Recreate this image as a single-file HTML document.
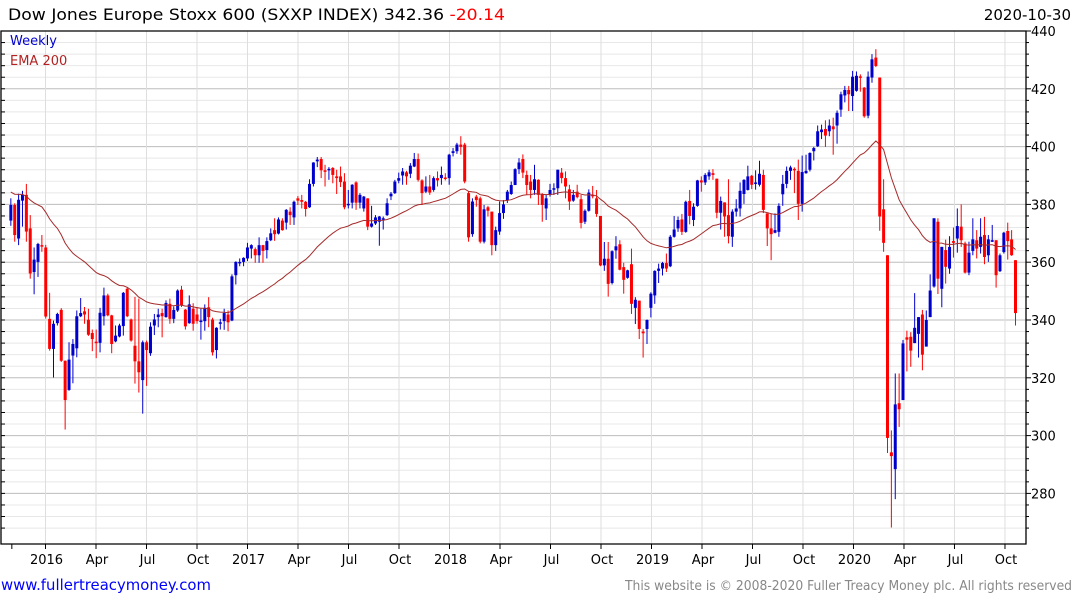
<!DOCTYPE html>
<html><head><meta charset="utf-8"><style>
html,body{margin:0;padding:0;background:#fff;}
svg{display:block;font-family:"DejaVu Sans","Liberation Sans",sans-serif;}
</style></head><body>
<svg id="chart" width="1075" height="600" viewBox="0 0 1075 600" xmlns="http://www.w3.org/2000/svg">
<text x="8" y="20" font-size="16" fill="#000" textLength="497" lengthAdjust="spacingAndGlyphs">Dow Jones Europe Stoxx 600 (SXXP INDEX) 342.36 <tspan fill="#ff0000">-20.14</tspan></text>
<text x="1071" y="20" font-size="15" text-anchor="end" fill="#000">2020-10-30</text>
<g id="grid"></g>
<g id="marks"></g>
<g id="axes"></g>
<text x="10" y="45" font-size="13" fill="#0000cc">Weekly</text>
<text x="10" y="65" font-size="13" fill="#b22222">EMA 200</text>
<text x="1" y="590" font-size="15" fill="#0000ff" textLength="210" lengthAdjust="spacingAndGlyphs">www.fullertreacymoney.com</text>
<text x="625" y="590" font-size="13" fill="#888" textLength="447" lengthAdjust="spacingAndGlyphs">This website is © 2008-2020 Fuller Treacy Money plc. All rights reserved</text>
</svg>
<script>
const openP = [
374.4,379.8,368.2,381.3,383.3,371.7,356.6,360.1,365.9,365.1,
340.4,330.0,338.9,343.5,325.9,315.8,327.7,330.2,341.3,343.0,
340.1,335.5,332.5,332.1,341.3,348.5,341.6,332.6,334.3,337.9,
350.8,340.2,331.1,325.7,319.2,332.3,328.5,338.1,341.0,342.4,
341.0,345.6,340.4,343.3,350.5,343.6,338.9,343.9,341.9,339.6,
339.6,344.4,340.2,329.6,338.7,339.6,341.9,339.8,355.5,359.8,
360.1,361.3,364.7,364.5,362.4,365.9,364.2,367.6,371.1,369.9,
374.4,373.7,377.5,375.5,382.1,381.5,380.9,379.0,387.1,394.9,
395.7,391.8,391.8,392.6,389.7,389.7,387.9,379.8,380.6,387.6,
380.6,378.6,382.1,372.3,373.4,374.0,374.8,376.3,382.8,383.9,
388.2,390.0,391.1,390.6,393.1,395.7,388.3,384.4,386.2,385.0,
389.1,389.1,389.3,389.1,397.8,398.4,400.7,400.7,383.9,369.7,
382.7,382.1,367.1,379.0,377.5,365.9,370.6,377.0,381.5,383.6,
386.7,392.2,395.7,390.2,387.9,385.0,388.5,383.6,378.6,383.3,
385.2,385.6,391.0,389.1,385.2,381.3,384.4,381.8,374.0,377.8,
383.3,382.1,376.0,358.9,361.2,352.8,364.1,366.2,358.3,354.6,
359.3,344.2,346.7,336.0,336.9,344.2,348.5,357.0,357.8,359.7,
358.6,368.8,371.7,374.8,370.5,381.2,374.6,379.5,388.3,387.6,
389.7,390.8,388.9,377.1,380.7,376.3,368.8,377.5,378.6,383.6,
385.0,389.9,387.3,386.8,390.2,376.9,371.7,370.2,370.5,383.5,
387.1,391.6,392.3,391.6,380.2,390.8,392.0,398.4,400.1,405.0,
406.1,405.3,407.0,407.3,412.8,417.7,419.6,417.5,419.3,424.3,
420.4,410.7,423.9,430.8,423.9,378.3,362.4,294.2,288.4,311.2,
312.3,334.0,334.2,332.0,335.2,341.9,330.8,341.0,351.6,374.0,
350.8,364.2,357.8,367.3,368.2,372.3,366.5,356.4,363.9,367.6,
365.3,369.4,362.4,367.3,367.6,356.9,363.5,370.8,367.9,360.7];
const closeP = [
379.8,369.4,381.6,383.3,370.6,356.1,360.9,366.3,365.6,341.2,
330.0,338.7,342.1,325.9,312.3,326.3,331.7,341.3,342.4,341.9,
334.9,333.4,332.1,342.5,348.5,341.6,331.7,334.6,338.1,349.4,
341.3,332.9,325.7,321.9,332.3,329.6,337.7,340.2,341.9,341.3,
345.9,340.4,343.5,350.2,345.0,337.8,345.4,338.7,339.6,339.8,
344.2,341.0,328.8,337.3,339.2,342.4,339.2,355.1,360.1,360.1,
361.5,365.1,365.9,362.4,365.9,363.9,367.3,370.0,369.7,374.8,
371.1,378.1,376.3,380.9,381.3,380.9,378.4,387.1,394.5,395.5,
391.8,391.4,392.3,390.2,389.1,387.7,379.0,380.2,386.8,380.6,
383.3,382.7,372.3,373.4,375.5,375.8,375.2,380.4,383.7,387.9,
389.1,391.4,389.7,393.4,395.7,388.5,383.9,386.2,384.1,389.1,
388.3,390.2,389.1,397.2,398.4,400.7,399.9,387.9,368.6,381.0,
381.5,367.1,378.3,377.8,365.9,371.1,377.0,380.0,384.4,386.7,
392.2,394.5,391.0,386.7,385.0,388.7,383.3,379.8,382.1,385.0,
385.6,392.0,389.1,386.2,381.0,383.3,382.5,373.6,377.8,384.1,
382.9,376.7,358.9,361.2,352.5,363.8,365.5,357.4,353.9,357.2,
345.6,347.0,336.9,335.4,340.0,349.1,357.0,357.8,359.7,357.8,
368.8,371.3,374.6,370.5,380.9,376.0,379.2,388.3,387.6,390.2,
391.1,390.2,377.1,381.2,375.8,369.0,377.5,378.6,384.7,388.5,
389.7,386.8,387.6,390.6,378.1,371.7,369.7,371.1,379.5,387.1,
391.6,392.8,392.0,380.2,391.2,391.6,397.8,399.5,405.3,405.9,
403.8,407.3,406.0,411.7,418.1,419.6,418.1,424.2,424.5,423.8,
410.5,424.2,430.2,427.9,375.8,366.7,299.2,292.9,310.8,309.1,
331.9,333.2,329.4,337.3,341.0,328.0,340.0,350.2,375.2,354.3,
365.3,358.4,365.3,366.7,372.5,367.6,356.4,363.3,367.9,364.7,
368.8,361.8,367.9,367.6,355.5,362.4,370.2,367.3,362.4,342.4];
const highP = [
382.1,380.4,383.7,384.7,387.1,376.3,365.1,366.7,369.4,366.0,
349.4,339.8,342.5,344.1,326.0,332.3,333.4,343.3,347.6,344.5,
343.9,336.7,336.7,344.2,351.2,349.1,341.8,338.1,338.7,349.7,
351.4,340.5,348.0,347.4,332.9,332.9,339.2,342.1,343.9,343.9,
346.8,347.4,344.7,350.6,351.8,343.8,348.5,345.8,344.5,343.9,
345.4,347.9,340.8,337.5,340.4,343.9,343.3,355.8,360.3,361.3,
361.7,366.7,366.2,365.1,368.6,366.0,368.6,371.7,375.2,375.5,
375.2,378.4,379.0,381.3,382.9,383.3,381.2,388.7,394.6,396.4,
396.4,393.7,392.9,392.9,392.0,393.1,390.8,385.0,387.0,388.0,
383.9,382.9,382.1,379.5,376.3,376.0,375.8,382.1,384.3,388.5,
391.0,392.6,391.6,394.3,397.8,397.6,388.7,389.7,390.2,389.7,
391.4,393.1,390.8,397.5,399.5,401.3,403.6,401.3,384.5,382.1,
383.3,382.7,379.8,379.5,377.5,372.3,381.0,381.5,385.0,387.9,
392.5,396.0,397.3,391.7,390.2,393.7,388.7,383.9,383.3,387.1,
387.3,392.0,392.6,391.4,386.8,385.0,386.8,383.3,378.3,385.2,
386.4,385.0,376.0,367.0,367.0,364.1,369.0,367.6,359.8,357.4,
364.7,347.9,346.7,336.9,340.2,349.6,357.2,359.5,360.1,363.0,
369.4,376.0,375.8,376.7,381.3,385.0,380.4,388.5,389.7,390.8,
392.0,392.2,388.9,382.7,380.7,388.7,378.3,381.8,387.6,388.7,
393.4,390.2,391.8,395.1,392.0,376.9,376.9,376.9,380.4,390.2,
393.1,393.4,392.8,395.5,396.9,397.2,398.0,399.9,407.3,407.6,
409.1,409.4,410.0,412.5,419.0,421.0,421.0,426.2,426.0,425.0,
420.6,426.0,432.0,433.7,423.9,388.7,362.4,301.8,321.5,321.5,
333.1,336.3,335.8,349.3,341.0,343.5,343.3,355.8,375.2,375.2,
365.3,367.8,369.0,372.0,378.6,380.0,367.1,367.1,375.2,371.1,
375.2,375.7,369.4,372.9,367.6,363.0,370.5,373.7,371.1,360.7];
const lowP = [
372.6,367.1,365.9,372.3,367.1,354.3,348.9,354.9,363.6,340.5,
329.4,320.1,338.1,325.5,302.1,315.5,318.1,327.1,341.0,338.7,
334.5,329.2,326.8,328.8,338.1,341.3,328.5,332.3,334.0,334.6,
341.0,332.5,318.0,314.9,307.6,317.2,327.6,334.8,337.5,334.0,
340.8,338.7,338.9,342.8,344.5,336.7,338.7,336.3,338.7,333.2,
336.3,337.5,327.7,326.7,336.7,336.6,336.1,339.6,352.3,358.6,
358.6,360.4,361.3,359.8,359.8,359.8,361.3,367.3,367.4,369.6,
370.9,371.3,372.9,372.9,379.8,378.6,375.8,378.8,386.2,392.9,
389.1,386.2,388.5,387.3,383.6,386.0,378.3,378.6,378.6,378.1,
378.6,377.5,371.1,372.0,372.9,365.7,371.3,376.0,381.5,383.6,
387.3,386.8,386.8,389.1,392.9,387.9,379.8,383.9,383.3,384.4,
386.2,386.8,388.3,386.8,396.6,397.5,397.2,387.3,367.1,368.8,
379.2,366.5,366.5,375.8,362.4,363.9,369.5,375.0,380.5,383.3,
386.7,390.5,389.1,383.3,382.1,383.3,379.8,374.0,374.6,382.7,
383.3,383.3,387.3,382.1,378.1,380.9,382.1,371.7,373.2,377.5,
382.1,375.7,358.6,357.0,348.1,352.3,361.2,357.2,349.1,354.3,
342.1,338.6,333.4,327.0,331.7,340.9,345.6,352.8,355.4,356.6,
358.3,368.5,370.5,369.4,370.2,373.1,372.5,379.2,384.4,386.7,
388.5,388.5,375.2,371.3,368.8,366.5,365.3,375.8,375.8,380.2,
384.8,385.3,385.1,386.2,377.0,365.6,360.7,370.0,368.8,379.5,
385.6,388.5,383.9,374.6,377.5,390.6,391.4,395.2,399.9,402.6,
399.9,403.6,397.2,401.0,410.3,415.3,412.3,412.3,419.0,419.0,
410.0,409.8,422.1,427.5,370.9,363.6,294.0,268.2,278.0,303.0,
312.3,322.2,323.8,332.0,327.0,322.6,330.8,341.0,351.2,349.0,
344.4,352.6,356.0,361.6,363.3,365.3,356.1,355.5,362.4,361.3,
363.0,359.3,360.1,367.0,351.2,356.6,363.0,360.9,362.2,338.1];
const yTicks = [280,300,320,340,360,380,400,420,440];
const monthLabels = ["2016","Apr","Jul","Oct","2017","Apr","Jul","Oct","2018","Apr","Jul","Oct","2019","Apr","Jul","Oct","2020","Apr","Jul","Oct"];
const emaSeed = 384.5;
const emaPeriodWeeks = 40;

const NS = "http://www.w3.org/2000/svg";
const L = 1, R = 1026, T = 31, B = 544;
function yOf(p){ return T + (440 - p) * 2.89; }
const N = closeP.length;
function xOf(i){ return 1015.5 - (N - 1 - i) * 3.879; }
function xMonth(m){ return 45.5 + m * 16.833; }
function el(tag, attrs, parent){ const e = document.createElementNS(NS, tag); for (const k in attrs) e.setAttribute(k, attrs[k]); parent.appendChild(e); return e; }

const grid = document.getElementById('grid');
const marks = document.getElementById('marks');
const axes = document.getElementById('axes');

for (let p = 268; p <= 440; p += 4) {
  const y = yOf(p);
  if (y < T || y > B) continue;
  const major = p % 20 === 0;
  const g = el('line', {x1: L, x2: R, y1: y, y2: y, stroke: major ? '#bdbdbd' : '#e8e8e8', 'stroke-width': 1}, grid);
  
  
  const tk = el('line', {x1: R, x2: R + (major ? 5 : 3), y1: y, y2: y, stroke: '#000'}, axes);
  
  
  const lt = el('line', {x1: L, x2: L + 4, y1: y, y2: y, stroke: '#000'}, axes);
  
  
}
yTicks.forEach(function(p){
  const t = el('text', {x: 1031, y: yOf(p) + 5, 'font-size': 13, fill: '#000'}, axes);
  
  
  t.textContent = String(p);
});
monthLabels.forEach(function(lab, q){
  const x = xMonth(q * 3);
  const v = el('line', {x1: x, x2: x, y1: T, y2: B, stroke: '#dedede'}, grid);
  
  
  const tk = el('line', {x1: x, x2: x, y1: B, y2: B + 5, stroke: '#000'}, axes);
  
  
  const t = el('text', {x: x + 1, y: 564, 'font-size': 13, 'text-anchor': 'middle', fill: '#000'}, axes);
  
  
  t.textContent = lab;
});
const ft = el('line', {x1: xMonth(-2), x2: xMonth(-2), y1: B, y2: B + 5, stroke: '#000'}, axes);



const fr1 = el('path', {d: `M${L},${T} L${R},${T} L${R},${B} L${L},${B} Z`, fill: 'none', stroke: '#000', 'stroke-width': 1.3}, axes);



for (let i = 0; i < N; i++) {
  const o = openP[i], c = closeP[i];
  const h = Math.max(highP[i], o, c), l = Math.min(lowP[i], o, c);
  const col = c >= o ? '#0000cc' : '#ff0000';
  const x = xOf(i);
  const w = el('line', {x1: x, x2: x, y1: yOf(h), y2: yOf(l), stroke: col, 'stroke-width': 1}, marks);
  
  
  const top = yOf(Math.max(o, c)), bot = yOf(Math.min(o, c));
  const b = el('rect', {x: x - 1.5, y: top, width: 3, height: Math.max(1.5, bot - top), fill: col}, marks);
  
  
}
let ema = emaSeed; const k = 2 / (emaPeriodWeeks + 1); const pts = [];
for (let i = 0; i < N; i++) { ema = closeP[i] * k + ema * (1 - k); pts.push(xOf(i).toFixed(1) + ',' + yOf(ema).toFixed(1)); }
const emaLine = el('polyline', {points: pts.join(' '), fill: 'none', stroke: '#a52a2a', 'stroke-width': 1}, marks);


</script>
</body></html>
